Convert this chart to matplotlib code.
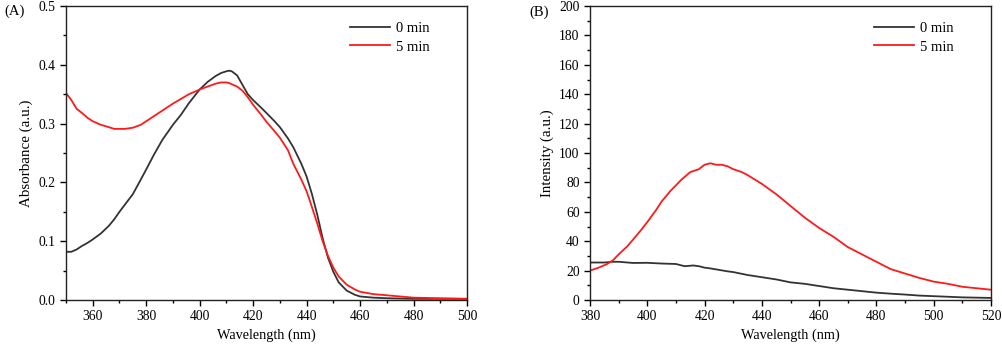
import matplotlib.pyplot as plt
from matplotlib.ticker import MultipleLocator

plt.rcParams['font.family'] = ['Liberation Serif', 'DejaVu Serif']

# (A) UV-vis absorbance
wl_a = [350, 352, 354, 356, 358, 360, 363, 366, 368, 370, 372, 375, 378, 380, 383, 386, 390,
        393, 396, 400, 403, 406, 408, 410, 411, 412, 414, 416, 418, 420, 423, 425, 428, 430,
        433, 435, 438, 440, 442, 444, 446, 448, 450, 452, 455, 458, 460, 465, 470, 480, 490, 500]
abs_0 = [0.082, 0.082, 0.086, 0.092, 0.097, 0.103, 0.113, 0.126, 0.137, 0.150, 0.162, 0.180,
         0.205, 0.222, 0.248, 0.272, 0.298, 0.315, 0.335, 0.358, 0.371, 0.381, 0.386, 0.389,
         0.390, 0.389, 0.382, 0.366, 0.350, 0.340, 0.327, 0.318, 0.304, 0.294, 0.275, 0.260,
         0.232, 0.210, 0.180, 0.145, 0.105, 0.072, 0.048, 0.030, 0.016, 0.009, 0.006, 0.004,
         0.003, 0.002, 0.002, 0.002]
abs_5 = [0.352, 0.340, 0.325, 0.318, 0.310, 0.304, 0.298, 0.294, 0.291, 0.291, 0.291, 0.293,
         0.298, 0.304, 0.313, 0.322, 0.334, 0.342, 0.350, 0.358, 0.363, 0.368, 0.370, 0.370,
         0.369, 0.367, 0.363, 0.356, 0.345, 0.332, 0.315, 0.303, 0.287, 0.276, 0.255, 0.232,
         0.205, 0.185, 0.158, 0.130, 0.100, 0.075, 0.055, 0.040, 0.026, 0.018, 0.014, 0.010,
         0.008, 0.004, 0.003, 0.002]

# (B) fluorescence intensity
wl_b0 = [380, 385, 388, 390, 395, 400, 405, 410, 413, 415, 416, 418, 420, 422, 425, 428, 430,
         435, 440, 445, 450, 455, 460, 465, 470, 475, 480, 485, 490, 495, 500, 505, 510, 515, 520]
int_0 = [25.5, 25.5, 26.0, 26.0, 25.2, 25.3, 24.8, 24.5, 23.0, 23.3, 23.5, 23.0, 22.0, 21.5,
         20.5, 19.5, 19.0, 17.0, 15.5, 14.0, 12.0, 11.0, 9.5, 8.0, 7.0, 6.0, 5.0, 4.3, 3.7, 3.0,
         2.6, 2.2, 1.8, 1.6, 1.4]
wl_b5 = [380, 383, 386, 388, 390, 393, 395, 398, 400, 403, 405, 408, 410, 412, 415, 418, 420,
         422, 424, 426, 428, 430, 433, 435, 440, 445, 450, 455, 460, 465, 470, 475, 480, 485,
         490, 495, 500, 505, 510, 515, 520]
int_5 = [20.0, 22.0, 24.5, 27.0, 31.0, 36.5, 41.0, 48.0, 53.0, 61.0, 67.0, 74.0, 78.0, 82.0,
         87.0, 89.0, 92.0, 93.0, 92.0, 92.0, 91.0, 89.0, 87.0, 85.0, 79.0, 72.0, 64.0, 56.0,
         49.0, 43.0, 36.0, 31.0, 26.0, 21.0, 18.0, 15.0, 12.5, 11.0, 9.0, 8.0, 7.0]

fig = plt.figure(figsize=(10.03, 3.49), dpi=100)
ax1 = fig.add_axes([66 / 1003, 1 - 300 / 349, 401 / 1003, 294 / 349])
ax2 = fig.add_axes([590 / 1003, 1 - 300 / 349, 401 / 1003, 294 / 349])

ax1.plot(wl_a, abs_0, color='#333333', lw=1.3, label='0 min')
ax1.plot(wl_a, abs_5, color='#ff1a1a', lw=1.3, label='5 min')
ax1.set_xlim(350, 500)
ax1.set_ylim(0, 0.5)
ax1.xaxis.set_minor_locator(MultipleLocator(10))
ax1.yaxis.set_major_locator(MultipleLocator(0.1))
ax1.yaxis.set_minor_locator(MultipleLocator(0.05))
ax1.set_xticks([360, 380, 400, 420, 440, 460, 480, 500])
ax1.set_xlabel('Wavelength (nm)', fontsize=10.3)
ax1.set_ylabel('Absorbance (a.u.)', fontsize=10.8, labelpad=4)
ax1.yaxis.set_major_formatter(lambda v, p: f'{v:.1f}')

ax2.plot(wl_b0, int_0, color='#333333', lw=1.3, label='0 min')
ax2.plot(wl_b5, int_5, color='#ff1a1a', lw=1.3, label='5 min')
ax2.set_xlim(380, 520)
ax2.set_ylim(0, 200)
ax2.xaxis.set_major_locator(MultipleLocator(20))
ax2.xaxis.set_minor_locator(MultipleLocator(10))
ax2.yaxis.set_major_locator(MultipleLocator(20))
ax2.yaxis.set_minor_locator(MultipleLocator(10))
ax2.set_xlabel('Wavelength (nm)', fontsize=10.3)
ax2.set_ylabel('Intensity (a.u.)', fontsize=10.8, labelpad=4)

for ax in (ax1, ax2):
    for s in ax.spines.values():
        s.set_linewidth(1.0)
        s.set_color('#222222')
    ax.tick_params(which='major', direction='out', length=4, width=1, labelsize=9.8)
    ax.tick_params(which='minor', direction='out', length=2.5, width=1)
    ax.legend(loc='upper right', frameon=False, fontsize=10.5, handlelength=2.8,
              handletextpad=0.4, labelspacing=0.35, bbox_to_anchor=(0.94, 0.99))

fig.text(4 / 1003, 1 - 11 / 349, '(A)', fontsize=10.5, va='center', ha='left')
fig.text(529 / 1003, 1 - 12 / 349, '(B)', fontsize=10.5, va='center', ha='left')

fig.savefig('out.png', dpi=100)
